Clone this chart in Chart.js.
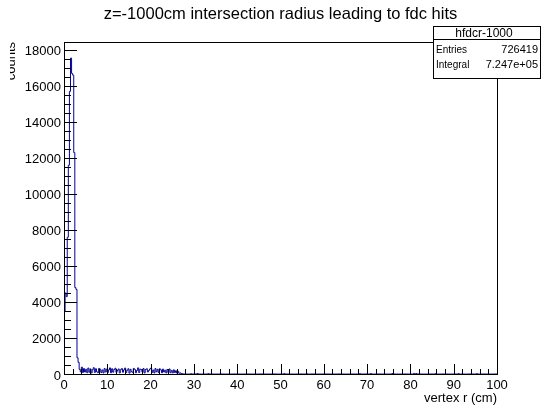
<!DOCTYPE html>
<html>
<head>
<meta charset="utf-8">
<title>hfdcr-1000</title>
<script src="https://cdn.jsdelivr.net/npm/chart.js@4.4.1/dist/chart.umd.min.js"></script>
<style>
  html, body { margin: 0; padding: 0; background: #fff; }
  #wrap { width: 543px; height: 411px; position: relative; }
</style>
</head>
<body>
<div id="wrap"><canvas id="histChart" width="543" height="411"></canvas></div>
<script>
// Histogram data: counts per 0.25 cm bin starting at r = 0
const binWidth = 0.25;
const rMax = 100;
const spikeCounts = [1200, 3500, 4500, 4300, 7600, 11600, 15700, 17550,
  16700, 16600, 12300, 4800, 4700, 900, 650, 260];
const flatCounts = [
  120, 380, 90, 300, 110, 260, 70, 330,
  100, 280, 60, 240, 350, 90, 290, 120,
  70, 310, 260, 80, 220, 60, 300, 110,
  270, 80, 230, 340, 70, 290, 100, 250,
  320, 90, 200, 280, 60, 240, 300, 100,
  230, 330, 80, 210, 290, 50, 260, 130,
  90, 310, 250, 70, 200, 340, 80, 270,
  240, 100, 300, 60, 250, 290, 110, 200,
  280, 330, 90, 220, 60, 300, 120, 260,
  80, 290, 230, 70, 270, 110, 210, 60,
  250, 90, 280, 70, 200, 60, 230, 80,
  180, 50, 150, 40, 60, 20, 10, 0];
// sparse entries in the tail (r in cm, counts)
const tailR = [29.7, 31.0, 33.7, 51.0, 56.4, 68.7, 71.0, 76.0, 81.0, 81.7, 86.0, 91.4, 95.6];
const tailCounts = [15, 30, 15, 20, 15, 20, 25, 20, 30, 25, 20, 15, 20];

const xTickValues = [0, 10, 20, 30, 40, 50, 60, 70, 80, 90, 100];
const xTickLabels = ['0', '10', '20', '30', '40', '50', '60', '70', '80', '90', '100'];
const yTickValues = [0, 2000, 4000, 6000, 8000, 10000, 12000, 14000, 16000, 18000];
const yTickLabels = ['0', '2000', '4000', '6000', '8000', '10000', '12000', '14000', '16000', '18000'];
const yMax = 18444;

const titleText = 'z=-1000cm intersection radius leading to fdc hits';
const xTitle = 'vertex r (cm)';
const yTitle = 'counts';
const statsName = 'hfdcr-1000';
const statsRows = [['Entries', '726419'], ['Integral', '7.247e+05']];

// build bin contents
const nBins = Math.round(rMax / binWidth);
const contents = new Array(nBins).fill(0);
spikeCounts.concat(flatCounts).forEach(function (c, i) { contents[i] = c; });
tailR.forEach(function (r, i) { contents[Math.floor(r / binWidth)] = tailCounts[i]; });

const points = contents.map(function (c, i) { return { x: i * binWidth, y: c }; });
points.push({ x: rMax, y: contents[nBins - 1] });

const FONT = '"Liberation Sans", Arial, Helvetica, sans-serif';

const rootFrame = {
  id: 'rootFrame',
  afterDraw: function (chart) {
    const ctx = chart.ctx;
    const a = chart.chartArea;
    const xs = chart.scales.x, ys = chart.scales.y;
    ctx.save();
    ctx.strokeStyle = '#000';
    ctx.lineWidth = 1;
    // frame
    ctx.strokeRect(Math.round(a.left) + 0.5, Math.round(a.top) + 0.5,
      Math.round(a.right - a.left), Math.round(a.bottom - a.top));

    // y ticks (inside, to the right)
    ctx.beginPath();
    for (let v = 0; v <= yMax; v += 500) {
      const py = Math.round(ys.getPixelForValue(v)) + 0.5;
      const len = (v % 2000 === 0) ? 13 : 7;
      ctx.moveTo(a.left, py);
      ctx.lineTo(a.left + len, py);
    }
    // x ticks (inside, upward)
    for (let v = 0; v <= rMax; v += 2) {
      const px = Math.round(xs.getPixelForValue(v)) + 0.5;
      const len = (v % 10 === 0) ? 10 : 5;
      ctx.moveTo(px, a.bottom);
      ctx.lineTo(px, a.bottom - len);
    }
    ctx.stroke();

    // tick labels
    ctx.fillStyle = '#000';
    ctx.font = '13px ' + FONT;
    ctx.textAlign = 'right';
    ctx.textBaseline = 'alphabetic';
    yTickValues.forEach(function (v, i) {
      ctx.fillText(yTickLabels[i], a.left - 3, ys.getPixelForValue(v) + 5.5);
    });
    ctx.textAlign = 'center';
    xTickValues.forEach(function (v, i) {
      ctx.fillText(xTickLabels[i], xs.getPixelForValue(v), 388.5);
    });

    // axis titles
    ctx.textAlign = 'right';
    ctx.fillText(xTitle, a.right, 402);
    ctx.save();
    ctx.beginPath();
    ctx.rect(10, 0, 50, 411);
    ctx.clip();
    ctx.translate(15, a.top);
    ctx.rotate(-Math.PI / 2);
    ctx.textAlign = 'right';
    ctx.fillText(yTitle, 0, 0);
    ctx.restore();

    // title
    ctx.font = '16.5px ' + FONT;
    ctx.textAlign = 'center';
    ctx.fillText(titleText, (a.left + a.right) / 2, 19);

    // stats box
    const bx = 433.5, by = 26.5, bw = 107, bh = 52;
    ctx.fillStyle = '#fff';
    ctx.fillRect(bx, by, bw, bh);
    ctx.strokeRect(bx, by, bw, bh);
    ctx.beginPath();
    ctx.moveTo(bx, 39.5);
    ctx.lineTo(bx + bw, 39.5);
    ctx.stroke();
    ctx.fillStyle = '#000';
    ctx.font = '12px ' + FONT;
    ctx.textAlign = 'center';
    ctx.fillText(statsName, 484, 36.5);
    statsRows.forEach(function (row, i) {
      const yy = 52.5 + i * 15;
      ctx.font = '10px ' + FONT;
      ctx.textAlign = 'left';
      ctx.fillText(row[0], 436, yy);
      ctx.font = '11px ' + FONT;
      ctx.textAlign = 'right';
      ctx.fillText(row[1], 538, yy);
    });
    ctx.restore();
  }
};

new Chart(document.getElementById('histChart'), {
  type: 'line',
  data: {
    datasets: [{
      label: statsName,
      data: points,
      stepped: 'after',
      borderColor: '#00009c',
      borderWidth: 1,
      pointRadius: 0,
      fill: false,
      tension: 0
    }]
  },
  options: {
    responsive: false,
    animation: false,
    events: [],
    layout: { padding: { left: 64, right: 46, top: 42, bottom: 37 } },
    scales: {
      x: { type: 'linear', min: 0, max: rMax, display: false },
      y: { type: 'linear', min: 0, max: yMax, display: false }
    },
    plugins: {
      legend: { display: false },
      tooltip: { enabled: false },
      title: { display: false }
    }
  },
  plugins: [rootFrame]
});
</script>
</body>
</html>
